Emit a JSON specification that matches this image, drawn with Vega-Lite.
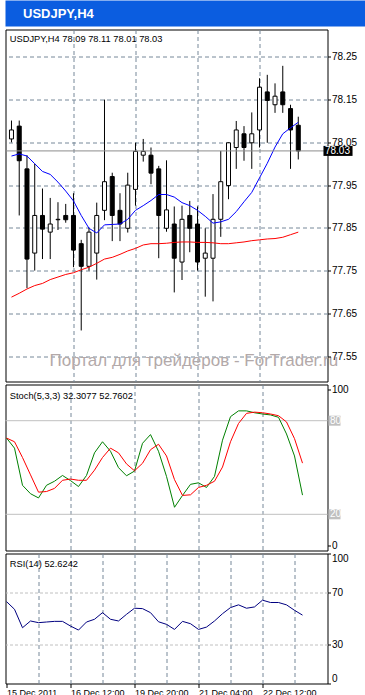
{
  "$schema": "https://vega.github.io/schema/vega-lite/v6.json",
  "padding": {"left": 3.5, "top": 0.5, "right": 0, "bottom": 0},
  "background": "white",
  "bounds": "flush",
  "spacing": 3,
  "datasets": {
    "caption": [{"name": "USDJPY,H4"}],
    "levels": [{"level": 20}, {"level": 80}],
    "bars": [
      {"k": 0, "o": 78.058, "h": 78.101, "l": 78.050, "c": 78.079, "mf": 78.018, "ms": 77.688, "sk": 68.9, "sd": 68.9, "rsi": 63.0},
      {"k": 1, "o": 78.088, "h": 78.101, "l": 77.879, "c": 78.007, "mf": 78.023, "ms": 77.697, "sk": 62.4, "sd": 66.5, "rsi": 57.1},
      {"k": 2, "o": 77.988, "h": 78.020, "l": 77.709, "c": 77.777, "mf": 78.018, "ms": 77.707, "sk": 38.6, "sd": 56.4, "rsi": 42.9},
      {"k": 3, "o": 77.791, "h": 78.000, "l": 77.750, "c": 77.879, "mf": 78.000, "ms": 77.715, "sk": 33.2, "sd": 45.3, "rsi": 48.1},
      {"k": 4, "o": 77.879, "h": 77.942, "l": 77.777, "c": 77.847, "mf": 77.982, "ms": 77.720, "sk": 30.5, "sd": 34.2, "rsi": 46.8},
      {"k": 5, "o": 77.840, "h": 77.920, "l": 77.777, "c": 77.859, "mf": 77.975, "ms": 77.729, "sk": 38.6, "sd": 34.6, "rsi": 47.3},
      {"k": 6, "o": 77.869, "h": 77.910, "l": 77.845, "c": 77.870, "mf": 77.957, "ms": 77.735, "sk": 41.2, "sd": 36.6, "rsi": 47.8},
      {"k": 7, "o": 77.879, "h": 77.906, "l": 77.862, "c": 77.869, "mf": 77.936, "ms": 77.741, "sk": 44.9, "sd": 41.8, "rsi": 47.8},
      {"k": 8, "o": 77.879, "h": 77.931, "l": 77.758, "c": 77.798, "mf": 77.913, "ms": 77.745, "sk": 41.6, "sd": 42.6, "rsi": 44.2},
      {"k": 9, "o": 77.813, "h": 77.822, "l": 77.610, "c": 77.760, "mf": 77.879, "ms": 77.752, "sk": 37.8, "sd": 41.8, "rsi": 41.1},
      {"k": 10, "o": 77.760, "h": 77.850, "l": 77.750, "c": 77.840, "mf": 77.849, "ms": 77.758, "sk": 44.9, "sd": 41.8, "rsi": 47.3},
      {"k": 11, "o": 77.791, "h": 77.909, "l": 77.729, "c": 77.879, "mf": 77.838, "ms": 77.767, "sk": 59.4, "sd": 48.3, "rsi": 49.4},
      {"k": 12, "o": 77.891, "h": 78.150, "l": 77.868, "c": 77.958, "mf": 77.857, "ms": 77.777, "sk": 66.5, "sd": 56.4, "rsi": 54.5},
      {"k": 13, "o": 77.970, "h": 77.979, "l": 77.819, "c": 77.879, "mf": 77.858, "ms": 77.781, "sk": 60.4, "sd": 62.4, "rsi": 49.4},
      {"k": 14, "o": 77.891, "h": 77.931, "l": 77.819, "c": 77.859, "mf": 77.859, "ms": 77.788, "sk": 49.9, "sd": 59.4, "rsi": 48.1},
      {"k": 15, "o": 77.849, "h": 77.979, "l": 77.839, "c": 77.950, "mf": 77.870, "ms": 77.796, "sk": 44.7, "sd": 52.3, "rsi": 53.2},
      {"k": 16, "o": 77.940, "h": 78.049, "l": 77.902, "c": 78.029, "mf": 77.891, "ms": 77.802, "sk": 47.7, "sd": 47.9, "rsi": 57.9},
      {"k": 17, "o": 78.020, "h": 78.058, "l": 78.005, "c": 78.029, "mf": 77.902, "ms": 77.810, "sk": 65.5, "sd": 52.7, "rsi": 57.6},
      {"k": 18, "o": 78.020, "h": 78.038, "l": 77.952, "c": 77.978, "mf": 77.914, "ms": 77.813, "sk": 71.1, "sd": 61.4, "rsi": 54.5},
      {"k": 19, "o": 77.988, "h": 77.995, "l": 77.779, "c": 77.879, "mf": 77.928, "ms": 77.813, "sk": 60.4, "sd": 64.9, "rsi": 47.5},
      {"k": 20, "o": 77.849, "h": 78.008, "l": 77.841, "c": 77.892, "mf": 77.928, "ms": 77.814, "sk": 44.3, "sd": 57.4, "rsi": 45.5},
      {"k": 21, "o": 77.859, "h": 77.900, "l": 77.699, "c": 77.779, "mf": 77.922, "ms": 77.816, "sk": 24.5, "sd": 42.2, "rsi": 41.6},
      {"k": 22, "o": 77.770, "h": 77.902, "l": 77.728, "c": 77.870, "mf": 77.909, "ms": 77.817, "sk": 32.1, "sd": 32.1, "rsi": 47.8},
      {"k": 23, "o": 77.879, "h": 77.913, "l": 77.793, "c": 77.849, "mf": 77.902, "ms": 77.817, "sk": 39.2, "sd": 32.5, "rsi": 46.0},
      {"k": 24, "o": 77.859, "h": 77.900, "l": 77.750, "c": 77.770, "mf": 77.891, "ms": 77.816, "sk": 40.2, "sd": 37.2, "rsi": 41.6},
      {"k": 25, "o": 77.779, "h": 77.849, "l": 77.689, "c": 77.791, "mf": 77.877, "ms": 77.816, "sk": 37.2, "sd": 38.6, "rsi": 43.4},
      {"k": 26, "o": 77.779, "h": 77.929, "l": 77.678, "c": 77.870, "mf": 77.861, "ms": 77.815, "sk": 44.3, "sd": 41.2, "rsi": 48.1},
      {"k": 27, "o": 77.870, "h": 78.030, "l": 77.829, "c": 77.958, "mf": 77.864, "ms": 77.813, "sk": 67.5, "sd": 50.3, "rsi": 53.7},
      {"k": 28, "o": 77.949, "h": 78.050, "l": 77.917, "c": 78.049, "mf": 77.870, "ms": 77.813, "sk": 82.6, "sd": 66.5, "rsi": 58.4},
      {"k": 29, "o": 78.038, "h": 78.100, "l": 77.988, "c": 78.079, "mf": 77.888, "ms": 77.815, "sk": 86.3, "sd": 78.2, "rsi": 60.5},
      {"k": 30, "o": 78.070, "h": 78.088, "l": 78.007, "c": 78.038, "mf": 77.911, "ms": 77.817, "sk": 86.3, "sd": 84.7, "rsi": 57.9},
      {"k": 31, "o": 78.049, "h": 78.120, "l": 77.988, "c": 78.070, "mf": 77.933, "ms": 77.820, "sk": 85.1, "sd": 85.5, "rsi": 58.9},
      {"k": 32, "o": 78.079, "h": 78.200, "l": 78.038, "c": 78.179, "mf": 77.967, "ms": 77.822, "sk": 84.3, "sd": 85.1, "rsi": 64.1},
      {"k": 33, "o": 78.168, "h": 78.208, "l": 78.049, "c": 78.148, "mf": 78.001, "ms": 77.824, "sk": 83.7, "sd": 84.3, "rsi": 62.3},
      {"k": 34, "o": 78.138, "h": 78.188, "l": 78.119, "c": 78.158, "mf": 78.039, "ms": 77.825, "sk": 82.2, "sd": 83.2, "rsi": 62.3},
      {"k": 35, "o": 78.168, "h": 78.229, "l": 78.119, "c": 78.138, "mf": 78.070, "ms": 77.828, "sk": 71.5, "sd": 79.2, "rsi": 60.5},
      {"k": 36, "o": 78.129, "h": 78.138, "l": 77.988, "c": 78.079, "mf": 78.084, "ms": 77.834, "sk": 57.4, "sd": 68.5, "rsi": 56.3},
      {"k": 37, "o": 78.090, "h": 78.110, "l": 78.010, "c": 78.030, "mf": 78.097, "ms": 77.840, "sk": 32.3, "sd": 52.8, "rsi": 52.6}
    ]
  },
  "vconcat": [
    {
      "width": 362,
      "height": 26,
      "view": {"fill": "#0b5de0", "stroke": null},
      "data": {"name": "caption"},
      "mark": {"type": "text", "color": "white", "font": "Liberation Sans", "fontSize": 13, "fontWeight": "bold", "align": "left", "baseline": "middle", "dx": -163.5},
      "encoding": {"text": {"field": "name", "type": "nominal"}}
    },
    {
      "width": 322,
      "height": 352,
      "data": {"name": "bars"},
      "layer": [
        {
          "mark": {"type": "rule", "color": "black", "strokeWidth": 1},
          "encoding": {
            "x": {"field": "k", "type": "quantitative",
              "scale": {"domain": [-0.125, 40.125], "nice": false, "zero": false},
              "axis": {"values": [0, 4, 8, 12, 16, 20, 24, 28, 32, 36], "labels": false, "ticks": false, "domain": false,
                "grid": true, "gridColor": "#778899", "gridDash": [4, 3],
                "gridOpacity": {"condition": {"test": "datum.value === 0", "value": 0}, "value": 1},
                "title": "Портал для трейдеров - ForTrader.ru", "titleColor": "#b3a9a9", "titleFont": "Liberation Sans",
                "titleFontSize": 17, "titleFontWeight": "normal", "titleAlign": "left", "titleBaseline": "alphabetic",
                "titleAngle": 0, "titleX": 43.5, "titleY": -16.5}},
            "y": {"field": "l", "type": "quantitative",
              "scale": {"domain": [77.5023, 78.3023], "nice": false, "zero": false},
              "axis": {"orient": "right", "values": [77.55, 77.65, 77.75, 77.85, 77.95, 78.05, 78.15, 78.25], "format": ".2f",
                "grid": true, "gridColor": "#778899", "gridDash": [4, 3], "tickSize": 3, "labelPadding": 1, "domain": false,
                "title": "USDJPY,H4  78.09 78.11 78.01 78.03", "titleAngle": 0, "titleAlign": "left", "titleBaseline": "alphabetic",
                "titleX": -318.2, "titleY": 11.8, "titleFontSize": 9.3, "titleFontWeight": "normal", "titleColor": "black"}},
            "y2": {"field": "h"}
          }
        },
        {
          "mark": {"type": "bar", "size": 4, "stroke": "black", "strokeWidth": 1, "orient": "vertical"},
          "encoding": {
            "x": {"field": "k", "type": "quantitative", "scale": {"domain": [-0.125, 40.125], "nice": false, "zero": false}},
            "y": {"field": "o", "type": "quantitative", "scale": {"domain": [77.5023, 78.3023], "nice": false, "zero": false}},
            "y2": {"field": "c"},
            "fill": {"condition": {"test": "datum.c >= datum.o", "value": "white"}, "value": "black"}
          }
        },
        {
          "mark": {"type": "line", "color": "#0000ff", "strokeWidth": 1},
          "encoding": {
            "x": {"field": "k", "type": "quantitative", "scale": {"domain": [-0.125, 40.125], "nice": false, "zero": false}},
            "y": {"field": "mf", "type": "quantitative", "scale": {"domain": [77.5023, 78.3023], "nice": false, "zero": false}}
          }
        },
        {
          "mark": {"type": "line", "color": "#ff0000", "strokeWidth": 1},
          "encoding": {
            "x": {"field": "k", "type": "quantitative", "scale": {"domain": [-0.125, 40.125], "nice": false, "zero": false}},
            "y": {"field": "ms", "type": "quantitative", "scale": {"domain": [77.5023, 78.3023], "nice": false, "zero": false}}
          }
        },
        {
          "transform": [{"filter": "datum.k === 37"}],
          "mark": {"type": "rule", "color": "#8c8c8c", "strokeWidth": 1},
          "encoding": {
            "y": {"field": "c", "type": "quantitative", "scale": {"domain": [77.5023, 78.3023], "nice": false, "zero": false}}
          }
        },
        {
          "transform": [{"filter": "datum.k === 37"}],
          "mark": {"type": "bar", "orient": "horizontal", "size": 10, "color": "black", "clip": false},
          "encoding": {
            "y": {"field": "c", "type": "quantitative", "scale": {"domain": [77.5023, 78.3023], "nice": false, "zero": false}},
            "x": {"datum": 40.25, "type": "quantitative"},
            "x2": {"datum": 44.0}
          }
        },
        {
          "transform": [{"filter": "datum.k === 37"}],
          "mark": {"type": "text", "color": "white", "align": "left", "baseline": "middle", "fontSize": 10, "font": "Liberation Sans"},
          "encoding": {
            "y": {"field": "c", "type": "quantitative", "scale": {"domain": [77.5023, 78.3023], "nice": false, "zero": false}},
            "x": {"datum": 40.44, "type": "quantitative"},
            "text": {"field": "c", "type": "quantitative", "format": ".2f"}
          }
        }
      ]
    },
    {
      "width": 322,
      "height": 166,
      "data": {"name": "bars"},
      "layer": [
        {
          "data": {"name": "levels"},
          "mark": {"type": "rule", "color": "#c0c0c0", "strokeWidth": 1},
          "encoding": {
            "y": {"field": "level", "type": "quantitative", "scale": {"domain": [0, 100], "nice": false, "zero": false},
              "axis": {"orient": "right", "values": [0, 100], "labelFlush": true, "grid": false, "tickSize": 3, "labelPadding": 1, "domain": false,
                "title": "Stoch(5,3,3) 32.3077 52.7602", "titleAngle": 0, "titleAlign": "left", "titleBaseline": "alphabetic",
                "titleX": -318.2, "titleY": 14, "titleFontSize": 9.3, "titleFontWeight": "normal", "titleColor": "black"}}
          }
        },
        {
          "mark": {"type": "line", "color": "#008000", "strokeWidth": 1},
          "encoding": {
            "x": {"field": "k", "type": "quantitative",
              "scale": {"domain": [-0.125, 40.125], "nice": false, "zero": false},
              "axis": {"values": [0, 4, 8, 12, 16, 20, 24, 28, 32, 36], "labels": false, "ticks": false, "domain": false,
                "grid": true, "gridColor": "#778899", "gridDash": [4, 3],
                "gridOpacity": {"condition": {"test": "datum.value === 0", "value": 0}, "value": 1}, "title": null}},
            "y": {"field": "sk", "type": "quantitative", "scale": {"domain": [0, 100], "nice": false, "zero": false}}
          }
        },
        {
          "mark": {"type": "line", "color": "#ff0000", "strokeWidth": 1},
          "encoding": {
            "x": {"field": "k", "type": "quantitative", "scale": {"domain": [-0.125, 40.125], "nice": false, "zero": false}},
            "y": {"field": "sd", "type": "quantitative", "scale": {"domain": [0, 100], "nice": false, "zero": false}}
          }
        },
        {
          "data": {"name": "levels"},
          "mark": {"type": "bar", "orient": "horizontal", "size": 10, "color": "#c0c0c0", "clip": false},
          "encoding": {
            "y": {"field": "level", "type": "quantitative", "scale": {"domain": [0, 100], "nice": false, "zero": false}},
            "x": {"datum": 40.25, "type": "quantitative"},
            "x2": {"datum": 41.75}
          }
        },
        {
          "data": {"name": "levels"},
          "mark": {"type": "text", "color": "white", "align": "left", "baseline": "middle", "fontSize": 10, "font": "Liberation Sans"},
          "encoding": {
            "y": {"field": "level", "type": "quantitative", "scale": {"domain": [0, 100], "nice": false, "zero": false}},
            "x": {"datum": 40.44, "type": "quantitative"},
            "text": {"field": "level", "type": "quantitative"}
          }
        }
      ]
    },
    {
      "width": 322,
      "height": 130,
      "data": {"name": "bars"},
      "mark": {"type": "line", "color": "#000080", "strokeWidth": 1},
      "encoding": {
        "x": {"field": "k", "type": "quantitative",
          "scale": {"domain": [-0.125, 40.125], "nice": false, "zero": false},
          "axis": {"values": [0, 4, 8, 12, 16, 20, 24, 28, 32, 36],
            "labelExpr": "datum.value % 8 === 0 ? ['15 Dec 2011','16 Dec 12:00','19 Dec 20:00','21 Dec 04:00','22 Dec 12:00'][datum.value / 8] : ''",
            "labelAlign": "left", "labelBaseline": "top", "labelPadding": 1, "labelFontSize": 9, "labelOverlap": false, "labelFlush": false,
            "tickSize": 4, "tickOpacity": {"condition": {"test": "datum.value % 8 !== 0", "value": 0}, "value": 1},
            "domain": false, "grid": true, "gridColor": "#778899", "gridDash": [4, 3],
            "gridOpacity": {"condition": {"test": "datum.value === 0", "value": 0}, "value": 1}, "title": null}},
        "y": {"field": "rsi", "type": "quantitative",
          "scale": {"domain": [0, 100], "nice": false, "zero": false},
          "axis": {"orient": "right", "values": [0, 30, 70, 100], "labelFlush": true, "grid": true, "gridColor": "#c0c0c0", "gridDash": [3, 2],
            "gridOpacity": {"condition": {"test": "datum.value === 0 || datum.value === 100", "value": 0}, "value": 1},
            "tickSize": 3, "labelPadding": 1, "domain": false,
            "title": "RSI(14) 52.6242", "titleAngle": 0, "titleAlign": "left", "titleBaseline": "alphabetic",
            "titleX": -318.2, "titleY": 13.2, "titleFontSize": 9.3, "titleFontWeight": "normal", "titleColor": "black"}}
      }
    }
  ],
  "config": {
    "view": {"stroke": "black", "strokeWidth": 1},
    "axis": {"labelFont": "Liberation Sans", "titleFont": "Liberation Sans", "labelColor": "black", "tickColor": "black", "domain": false, "labelFontSize": 10},
    "text": {"font": "Liberation Sans"}
  }
}
